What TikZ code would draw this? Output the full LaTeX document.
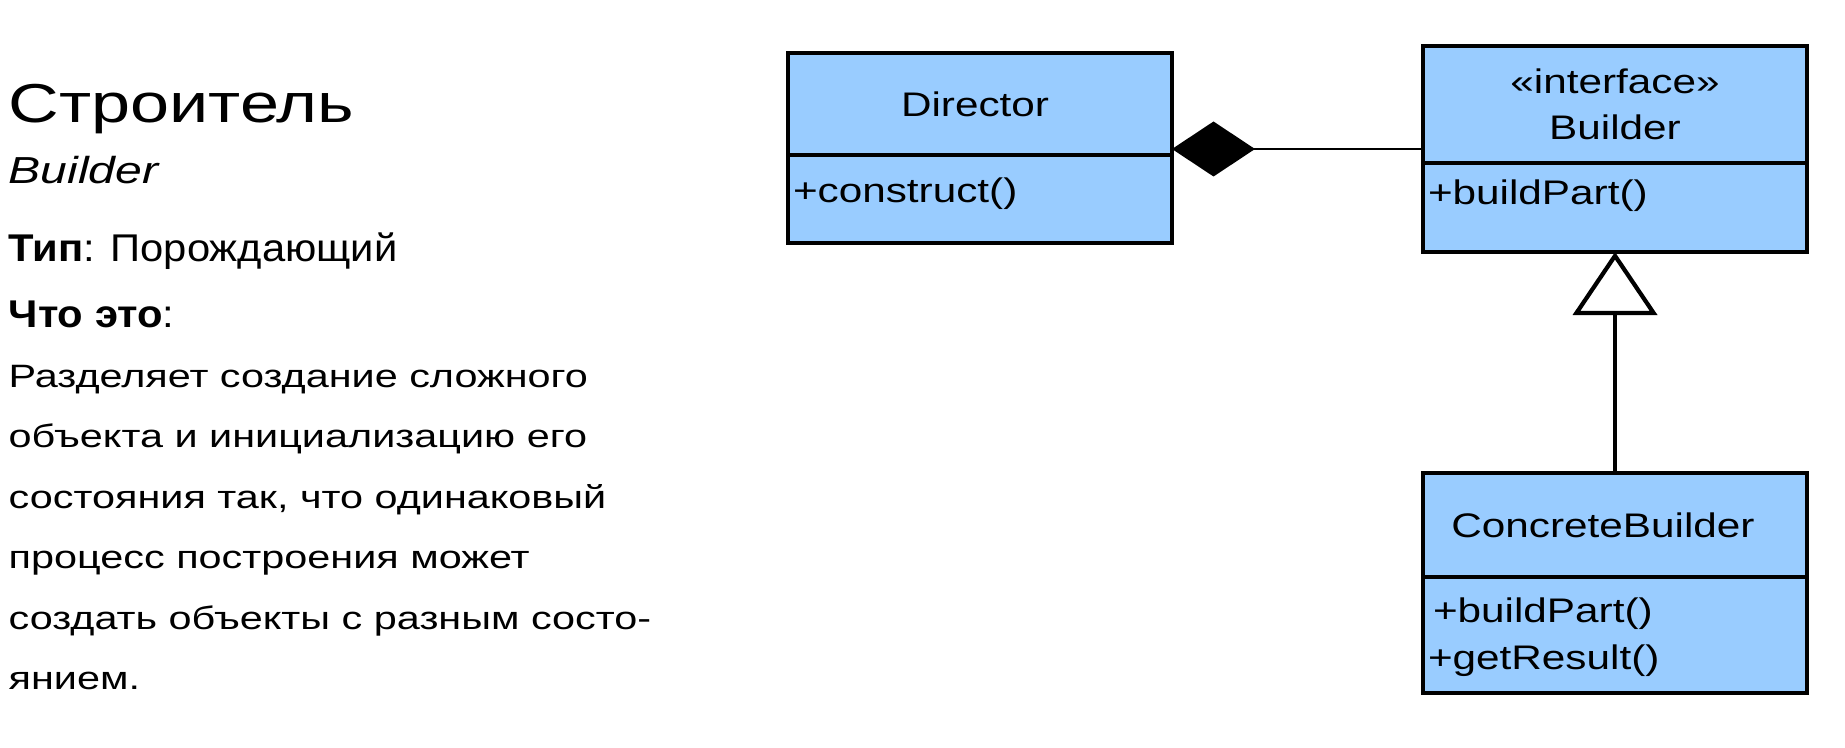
\documentclass[tikz,border=0pt]{standalone}
\usepackage{fontspec}
\setmainfont{Liberation Sans}
\newfontfamily\slidefont{Liberation Sans}[FakeStretch=1.28]
\newfontfamily\kindfont{Liberation Sans}[FakeStretch=1.08]
\newfontfamily\umlfont{Liberation Sans}[FakeStretch=1.24]
\usetikzlibrary{positioning,arrows.meta}
\definecolor{umlblue}{HTML}{99CCFF}

\begin{document}
\begin{tikzpicture}[
    classhead/.style={draw, line width=1.15pt, outer sep=0pt, fill=umlblue, minimum width=3.84cm, inner sep=0pt, align=center, font=\umlfont\fontsize{9.7}{13}\selectfont},
    classbody/.style={draw, line width=1.15pt, outer sep=0pt, fill=umlblue, minimum width=3.84cm, text width=3.74cm, inner xsep=0.05cm, inner ysep=0pt, align=left, font=\umlfont\fontsize{9.7}{13.4}\selectfont},
    composition/.style={{Diamond[length=0.83cm,width=0.55cm]}-, line width=0.8pt},
    realizes/.style={-{Triangle[open,length=0.63cm,width=0.84cm,line width=1.2pt]}, line width=0.9pt},
    slidetext/.style={anchor=base west, inner sep=0pt, font=\slidefont\fontsize{9.2}{11}\selectfont},
    kindtext/.style={anchor=base west, inner sep=0pt, font=\kindfont\fontsize{11}{13}\selectfont}
  ]
    \useasboundingbox (0,0) rectangle (18.45,-7.48);

    % Title and description
    \node[slidetext, font=\slidefont\fontsize{15.6}{19}\selectfont] (title) at (0.08,-1.23) {Строитель};
    \node[slidetext, font=\slidefont\itshape\fontsize{10.7}{13}\selectfont] (english) at (0.08,-1.83) {Builder};
    \node[kindtext] (kind) at (0.08,-2.62) {\textbf{Тип}: Порождающий};
    \node[kindtext] (what) at (0.08,-3.27) {\textbf{Что это}:};
    \node[slidetext] (line1) at (0.08,-3.87) {Разделяет создание сложного};
    \node[slidetext] (line2) at (0.08,-4.475) {объекта и инициализацию его};
    \node[slidetext] (line3) at (0.08,-5.08) {состояния так, что одинаковый};
    \node[slidetext] (line4) at (0.08,-5.685) {процесс построения может};
    \node[slidetext] (line5) at (0.08,-6.29) {создать объекты с разным состо-};
    \node[slidetext] (line6) at (0.08,-6.895) {янием.};

    % Director
    \node[classhead, minimum height=1.02cm, anchor=north west] (director) at (7.88,-0.53) {Director\hspace*{0.1cm}};
    \node[classbody, text height=0.48cm, text depth=0.40cm, below=0pt of director] (directorops) {+construct()};

    % Builder
    \node[classhead, minimum height=1.17cm, anchor=north west] (builder) at (14.23,-0.46) {«interface»\\Builder};
    \node[classbody, text height=0.41cm, text depth=0.48cm, below=0pt of builder] (builderops) {+buildPart()};

    % ConcreteBuilder
    \node[classhead, minimum height=1.04cm, anchor=north west] (concrete) at (14.23,-4.73) {ConcreteBuilder\hspace*{0.24cm}};
    \node[classbody, text height=0.45cm, text depth=0.71cm, below=0pt of concrete] (concreteops) {\hspace*{0.05cm}+buildPart()\\+getResult()};

    % Connectors
    \coordinate (hold) at ([yshift=0.06cm]director.south east);
    \draw[composition] (hold) -- (hold -| builder.west);
    \draw[realizes] (concrete.north) -- (builderops.south);
\end{tikzpicture}
\end{document}
